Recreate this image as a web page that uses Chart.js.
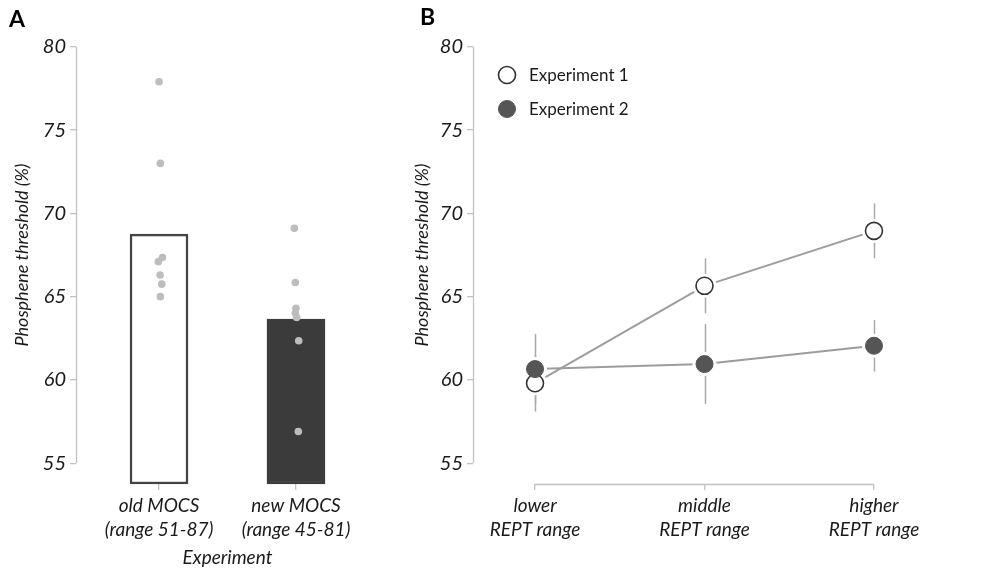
<!DOCTYPE html>
<html>
<head>
<meta charset="utf-8">
<title>Phosphene threshold</title>
<script src="https://cdn.jsdelivr.net/npm/chart.js@4.4.1/dist/chart.umd.min.js"></script>
<style>
  html, body { margin: 0; padding: 0; background: #fff; }
  #wrap { position: relative; width: 993px; height: 575px; }
  #panelA { position: absolute; left: 0; top: 0; }
  #panelB { position: absolute; left: 400px; top: 0; }
</style>
</head>
<body>
<div id="wrap">
  <canvas id="panelA" width="400" height="575"></canvas>
  <canvas id="panelB" width="593" height="575"></canvas>
</div>
<script>
// ---- Panel A: mean threshold per MOCS version, with single participants ----
const mocsLabels = [['old MOCS', '(range 51-87)'], ['new MOCS', '(range 45-81)']];
const mocsMeans = [68.75, 63.65];
const oldMocsDots = [77.9, 73.0, 67.35, 67.1, 66.3, 65.75, 65.0];
const oldMocsJitter = [0, 0.01, 0.025, -0.005, 0.008, 0.02, 0.01];
const newMocsDots = [69.1, 65.85, 64.3, 64.0, 63.75, 62.35, 56.9];
const newMocsJitter = [-0.012, -0.005, 0, -0.005, 0.005, 0.02, 0.017];

// ---- Panel B: threshold per REPT range, both experiments ----
const reptLabels = [['lower', 'REPT range'], ['middle', 'REPT range'], ['higher', 'REPT range']];
const exp1Means = [59.8, 65.65, 68.95];
const exp1Err = [1.7, 1.65, 1.65];
const exp2Means = [60.65, 60.95, 62.05];
const exp2Err = [2.1, 2.4, 1.55];

const yTicks = [55, 60, 65, 70, 75, 80];
const yMin = 53.75, yMax = 81.25;

const fontFam = 'Lato, "Open Sans", sans-serif';
const axisGrey = '#c2c2c2';
const textCol = '#1a1a1a';

Chart.defaults.font.family = fontFam;
Chart.defaults.color = textCol;

// draws the axis lines only over the data range (like a range frame)
const rangeFrame = {
  id: 'rangeFrame',
  afterDraw(chart, args, opts) {
    const { ctx, chartArea } = chart;
    const ys = chart.scales.y;
    ctx.save();
    ctx.strokeStyle = axisGrey;
    ctx.lineWidth = 1.3;
    ctx.beginPath();
    const x0 = Math.round(chartArea.left) + 0.5;
    ctx.moveTo(x0, ys.getPixelForValue(yTicks[0]));
    ctx.lineTo(x0, ys.getPixelForValue(yTicks[yTicks.length - 1]));
    if (opts.xCount) {
      const xs = chart.scales.x;
      const yb = Math.round(chartArea.bottom) + 0.5;
      ctx.moveTo(xs.getPixelForValue(1), yb);
      ctx.lineTo(xs.getPixelForValue(opts.xCount), yb);
    }
    ctx.stroke();
    ctx.restore();
  }
};

// big bold panel letter
const panelLetter = {
  id: 'panelLetter',
  afterDraw(chart, args, opts) {
    const { ctx } = chart;
    ctx.save();
    ctx.font = 'bold 23px ' + fontFam;
    ctx.fillStyle = '#000';
    ctx.textBaseline = 'middle';
    ctx.fillText(opts.text, opts.x, opts.y);
    ctx.restore();
  }
};

function yScale(width) {
  return {
    min: yMin,
    max: yMax,
    afterBuildTicks: s => { s.ticks = yTicks.map(v => ({ value: v })); },
    afterFit: s => { s.width = width; },
    border: { display: false },
    grid: { drawOnChartArea: false, color: axisGrey, tickLength: 6, lineWidth: 1.3 },
    ticks: { padding: 4, color: textCol, font: { size: 20, style: 'italic' } },
    title: {
      display: true,
      text: 'Phosphene threshold (%)',
      padding: { top: 11, bottom: 0 },
      color: textCol,
      font: { size: 18, style: 'italic' }
    }
  };
}

// ---------------- Panel A ----------------
const oldPts = oldMocsDots.map((v, i) => ({ x: 1 + oldMocsJitter[i], y: v }));
const newPts = newMocsDots.map((v, i) => ({ x: 2 + newMocsJitter[i], y: v }));

new Chart(document.getElementById('panelA'), {
  type: 'bar',
  data: {
    datasets: [
      {
        type: 'scatter',
        data: oldPts.concat(newPts),
        pointRadius: 3.8,
        pointBackgroundColor: '#bdbdbd',
        pointBorderWidth: 0,
        order: 0
      },
      {
        data: mocsMeans.map((v, i) => ({ x: i + 1, y: v })),
        base: yMin,   // bars start at the bottom of the plot, not at 0
        backgroundColor: ['#ffffff', '#3b3b3b'],
        borderColor: ['#444444', '#3b3b3b'],
        borderWidth: 2.5,
        borderSkipped: false,
        barThickness: 58,
        clip: 4,
        order: 1
      }
    ]
  },
  options: {
    responsive: false,
    animation: false,
    events: [],
    layout: { padding: { top: 26, right: 21, bottom: 0, left: 0 } },
    plugins: {
      legend: { display: false },
      tooltip: { enabled: false },
      rangeFrame: {},
      panelLetter: { text: 'A', x: 9, y: 20 }
    },
    scales: {
      x: {
        type: 'linear',
        offset: false,
        min: 0.394,
        max: 2.606,
        afterBuildTicks: s => { s.ticks = mocsLabels.map((_, i) => ({ value: i + 1 })); },
        afterFit: s => { s.height = 91; },
        border: { display: false },
        grid: { offset: false, drawOnChartArea: false, color: axisGrey, tickLength: 6, lineWidth: 1.3 },
        ticks: {
          padding: 4,
          color: textCol,
          font: { size: 19, style: 'italic', lineHeight: 1.25 },
          callback: v => mocsLabels[v - 1]
        },
        title: {
          display: true,
          text: 'Experiment',
          padding: { top: 0, bottom: 6 },
          color: textCol,
          font: { size: 19, style: 'italic' }
        }
      },
      y: yScale(76)
    }
  },
  plugins: [rangeFrame, panelLetter]
});

// ---------------- Panel B ----------------
const errorBars = {
  id: 'errorBars',
  beforeDatasetsDraw(chart) {
    const { ctx } = chart;
    const xs = chart.scales.x, ys = chart.scales.y;
    ctx.save();
    ctx.strokeStyle = '#a8a8a8';
    ctx.lineWidth = 1.5;
    [[exp1Means, exp1Err], [exp2Means, exp2Err]].forEach(([m, e]) => {
      m.forEach((v, i) => {
        const px = Math.round(xs.getPixelForValue(i + 1)) + 0.5;
        ctx.beginPath();
        ctx.moveTo(px, ys.getPixelForValue(v - e[i]));
        ctx.lineTo(px, ys.getPixelForValue(v + e[i]));
        ctx.stroke();
      });
    });
    ctx.restore();
  }
};

// legend inside the plot, top left
const insetLegend = {
  id: 'insetLegend',
  afterDraw(chart) {
    const { ctx, chartArea } = chart;
    const items = chart.data.datasets.filter(d => d.inLegend);
    ctx.save();
    items.forEach((d, i) => {
      const cx = chartArea.left + 34;
      const cy = chartArea.top + 49 + i * 34;
      ctx.beginPath();
      ctx.arc(cx, cy, 8.5, 0, Math.PI * 2);
      ctx.fillStyle = d.pointBackgroundColor;
      ctx.fill();
      ctx.lineWidth = d.pointBorderWidth;
      ctx.strokeStyle = d.pointBorderColor;
      ctx.stroke();
      ctx.fillStyle = textCol;
      ctx.font = '17px ' + fontFam;
      ctx.textBaseline = 'middle';
      ctx.fillText(d.label, cx + 22, cy + 1);
    });
    ctx.restore();
  }
};

const exp1Pts = exp1Means.map((v, i) => ({ x: i + 1, y: v }));
const exp2Pts = exp2Means.map((v, i) => ({ x: i + 1, y: v }));

new Chart(document.getElementById('panelB'), {
  type: 'line',
  data: {
    datasets: [
      {
        label: 'Experiment 1',
        inLegend: true,
        data: exp1Pts,
        showLine: false,
        pointRadius: 8.5,
        pointBackgroundColor: '#ffffff',
        pointBorderColor: '#333333',
        pointBorderWidth: 1.6,
        order: 1
      },
      {
        label: 'Experiment 2',
        inLegend: true,
        data: exp2Pts,
        showLine: false,
        pointRadius: 8.5,
        pointBackgroundColor: '#555555',
        pointBorderColor: '#555555',
        pointBorderWidth: 1,
        order: 0
      },
      {
        // connecting line; white halo points leave a gap round the markers
        data: exp1Pts,
        borderColor: '#9c9c9c',
        borderWidth: 2,
        tension: 0,
        pointRadius: 12,
        pointBackgroundColor: '#ffffff',
        pointBorderWidth: 0,
        order: 2
      },
      {
        data: exp2Pts,
        borderColor: '#9c9c9c',
        borderWidth: 2,
        tension: 0,
        pointRadius: 12,
        pointBackgroundColor: '#ffffff',
        pointBorderWidth: 0,
        order: 3
      }
    ]
  },
  options: {
    responsive: false,
    animation: false,
    events: [],
    layout: { padding: { top: 26, right: 57, bottom: 0, left: 0 } },
    plugins: {
      legend: { display: false },
      tooltip: { enabled: false },
      rangeFrame: { xCount: reptLabels.length },
      panelLetter: { text: 'B', x: 20, y: 18 }
    },
    scales: {
      x: {
        type: 'linear',
        min: 0.634,
        max: 3.366,
        afterBuildTicks: s => { s.ticks = reptLabels.map((_, i) => ({ value: i + 1 })); },
        afterFit: s => { s.height = 91; },
        border: { display: false },
        grid: { drawOnChartArea: false, color: axisGrey, tickLength: 6, lineWidth: 1.3 },
        ticks: {
          padding: 4,
          color: textCol,
          font: { size: 19, style: 'italic', lineHeight: 1.25 },
          callback: v => reptLabels[v - 1]
        }
      },
      y: yScale(73)
    }
  },
  plugins: [errorBars, rangeFrame, panelLetter, insetLegend]
});
</script>
</body>
</html>
